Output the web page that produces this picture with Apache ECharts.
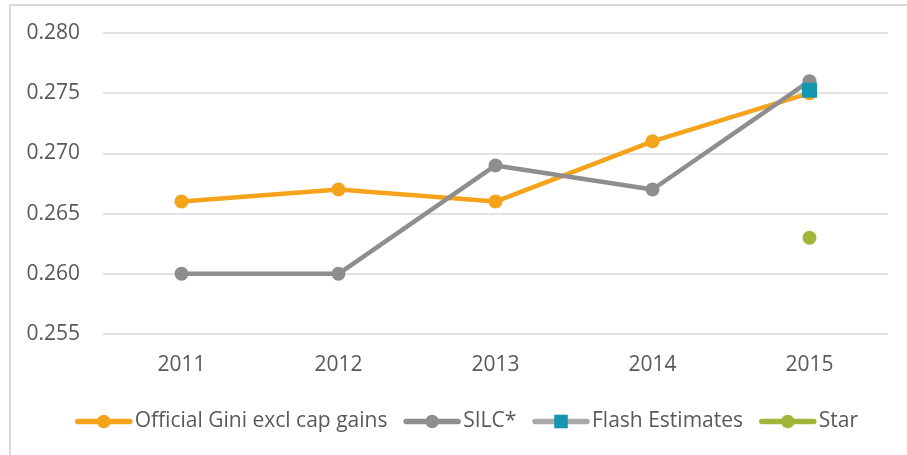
<!DOCTYPE html>
<html>
<head>
<meta charset="utf-8">
<script src="https://cdn.jsdelivr.net/npm/echarts@6/dist/echarts.min.js"></script>
<style>
  html, body { margin: 0; padding: 0; background: #fff; }
  #frame { position: absolute; left: 9px; top: 4px; width: 898px; height: 451px;
           border-left: 2px solid #d9d9d9; border-top: 2px solid #d9d9d9; box-sizing: border-box; }
  #chart { position: absolute; left: 0; top: 0; width: 907px; height: 455px; }
</style>
</head>
<body>
<div id="frame"></div>
<div id="chart"></div>
<script>
// data
const years = ['2011', '2012', '2013', '2014', '2015']
const officialGini = [0.266, 0.267, 0.266, 0.271, 0.275]
const silc = [0.260, 0.260, 0.269, 0.267, 0.276]
const flashEstimates = [null, null, null, null, 0.27525]
const star = [null, null, null, null, 0.263]
const yTicks = ['0.255', '0.260', '0.265', '0.270', '0.275', '0.280']

const textColor = '#595959'
const fontFamily = '"Open Sans", "Liberation Sans", sans-serif'

const chart = echarts.init(document.getElementById('chart'), null, { renderer: 'canvas' })

chart.setOption({
    animation: false,
    backgroundColor: 'transparent',
    grid: { left: 103, right: 19, top: 33, bottom: 121 },
    legend: {
        top: 406,
        left: 70,
        itemWidth: 52,
        itemHeight: 17,
        itemGap: 16,
        lineStyle: { width: 5.5, cap: 'round' },
        textStyle: { color: textColor, fontSize: 21, fontFamily: fontFamily },
        data: ['Official Gini excl cap gains', 'SILC*', 'Flash Estimates', 'Star']
    },
    xAxis: {
        type: 'category',
        data: years,
        boundaryGap: true,
        axisLine: { show: false },
        axisTick: { show: false },
        axisLabel: { color: textColor, fontSize: 21, fontFamily: fontFamily, margin: 21 }
    },
    yAxis: {
        type: 'value',
        min: 0.255,
        max: 0.280,
        interval: 0.005,
        axisLine: { show: false },
        axisTick: { show: false },
        splitLine: { lineStyle: { color: '#d9d9d9', width: 1.5 } },
        axisLabel: {
            color: textColor, fontSize: 21, fontFamily: fontFamily, margin: 23,
            formatter: v => yTicks.find(t => Math.abs(parseFloat(t) - v) < 1e-6) || v.toFixed(3)
        }
    },
    series: [
        {
            name: 'Official Gini excl cap gains',
            type: 'line',
            data: officialGini,
            symbol: 'circle',
            symbolSize: 14,
            itemStyle: { color: '#F5A31B' },
            lineStyle: { color: '#F5A31B', width: 4.5 }
        },
        {
            name: 'SILC*',
            type: 'line',
            data: silc,
            symbol: 'circle',
            symbolSize: 14,
            itemStyle: { color: '#8E8E8E' },
            lineStyle: { color: '#8E8E8E', width: 4.5 }
        },
        {
            name: 'Flash Estimates',
            type: 'line',
            data: flashEstimates,
            symbol: 'rect',
            symbolSize: 15,
            itemStyle: { color: '#1596B0' },
            lineStyle: { color: '#A9A9A9', width: 4.5 }
        },
        {
            name: 'Star',
            type: 'line',
            data: star,
            symbol: 'circle',
            symbolSize: 14,
            itemStyle: { color: '#A2B43A' },
            lineStyle: { color: '#A2B43A', width: 4.5 }
        }
    ]
})
</script>
</body>
</html>
